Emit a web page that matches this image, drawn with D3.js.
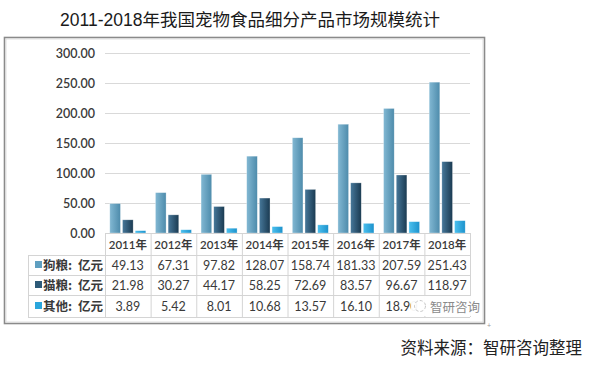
<!DOCTYPE html>
<html><head><meta charset="utf-8">
<script src="https://cdn.jsdelivr.net/npm/d3@7"></script>
<style>
html,body{margin:0;padding:0;background:#fff;}
svg{display:block;}
</style></head>
<body>
<svg id="c" width="593" height="366"></svg>
<script>
const years = ["2011年","2012年","2013年","2014年","2015年","2016年","2017年","2018年"];
const dogFood = [49.13,67.31,97.82,128.07,158.74,181.33,207.59,251.43];
const catFood = [21.98,30.27,44.17,58.25,72.69,83.57,96.67,118.97];
const otherFood = [3.89,5.42,8.01,10.68,13.57,16.10,18.90,20.60];
const seriesNames = ["狗粮","猫粮","其他"];
const unitLabel = "亿元";
const yTicks = [0,50,100,150,200,250,300];
const titleText = "2011-2018年我国宠物食品细分产品市场规模统计";
const sourceText = "资料来源：智研咨询整理";
const watermarkText = "智研咨询";

const seriesData = [dogFood, catFood, otherFood];
const colors = ["#5f9fc0","#2d5a78","#2aa6dc"];

const svg = d3.select("#c");
const defs = svg.append("defs");
const grads = [
  ["g0", "#82b8d3", "#4d8bab"],
  ["g1", "#47789a", "#1a3a51"],
  ["g2", "#4cc0ee", "#1c92cc"]
];
grads.forEach(([id,a,b]) => {
  const g = defs.append("linearGradient").attr("id", id).attr("x1","0").attr("x2","1").attr("y1","0").attr("y2","0");
  g.append("stop").attr("offset","0%").attr("stop-color", a);
  g.append("stop").attr("offset","100%").attr("stop-color", b);
});

const CJK = "'Noto Sans CJK SC', sans-serif";
const NUM = "Lato, 'Noto Sans CJK SC', sans-serif";

// title
svg.append("text").attr("x", 60).attr("y", 26)
  .attr("font-family", "'Liberation Sans', " + CJK)
  .attr("font-size", 17.5).attr("fill", "#1a1a1a").text(titleText);

// frame
svg.append("rect").attr("x", 4.5).attr("y", 37.5).attr("width", 480).attr("height", 286)
  .attr("fill", "#fff").attr("stroke", "#8a8a8a").attr("stroke-width", 1.6);
svg.append("rect").attr("x", 6).attr("y", 39).attr("width", 477).attr("height", 283)
  .attr("fill", "none").attr("stroke", "#d8d8d8").attr("stroke-width", 0.8);

const x0 = 105, x1 = 470, yBase = 233, yTop = 53;
const x = d3.scaleBand().domain(years).range([x0, x1]).padding(0);
const xs = d3.scaleBand().domain(seriesNames).range([0, x.bandwidth()]).paddingInner(0.16).paddingOuter(0.378);
const y = d3.scaleLinear().domain([0, 300]).range([yBase, yTop]);

// grid
const gAxis = svg.append("g").attr("transform", `translate(${x0},0)`)
  .call(d3.axisLeft(y).tickValues(yTicks).tickSize(-(x1 - x0)).tickFormat(d3.format(".2f")).tickPadding(10));
gAxis.select(".domain").remove();
gAxis.selectAll(".tick line").attr("stroke", "#d9d9d9").attr("stroke-width", 1);
gAxis.selectAll(".tick text").attr("font-family", NUM).attr("font-size", 12.5)
  .attr("fill", "#3a3a3a").attr("font-weight", 600);

// bars
seriesNames.forEach((s, si) => {
  svg.append("g").selectAll("rect").data(seriesData[si]).join("rect")
    .attr("x", (d, i) => x(years[i]) + xs(s))
    .attr("y", d => y(d))
    .attr("width", xs.bandwidth())
    .attr("height", d => y(0) - y(d))
    .attr("fill", `url(#g${si})`)
    .attr("stroke", "#ffffff").attr("stroke-opacity", 0.5).attr("stroke-width", 0.6);
});

// table
const tableLeft = 28;
const rowY = [255, 275, 295, 317];
const gridColor = "#d4d4d4";
const tbl = svg.append("g");
tbl.append("line").attr("x1", x0).attr("x2", x1).attr("y1", yBase + 0.5).attr("y2", yBase + 0.5).attr("stroke", gridColor);
rowY.forEach(ry => {
  tbl.append("line").attr("x1", tableLeft).attr("x2", x1).attr("y1", ry + 0.5).attr("y2", ry + 0.5).attr("stroke", gridColor);
});
tbl.append("line").attr("x1", tableLeft + 0.5).attr("x2", tableLeft + 0.5).attr("y1", rowY[0]).attr("y2", rowY[3]).attr("stroke", gridColor);
years.forEach((yr, i) => {
  const xx = x(yr) + 0.5;
  tbl.append("line").attr("x1", xx).attr("x2", xx).attr("y1", yBase).attr("y2", rowY[3]).attr("stroke", gridColor);
});
tbl.append("line").attr("x1", x1 + 0.5).attr("x2", x1 + 0.5).attr("y1", yBase).attr("y2", rowY[3]).attr("stroke", gridColor);

// header years
tbl.selectAll("text.yr").data(years).join("text").attr("class", "yr")
  .attr("x", d => x(d) + x.bandwidth() / 2).attr("y", 249)
  .attr("text-anchor", "middle").attr("font-family", NUM).attr("font-size", 11.5)
  .attr("font-weight", 600).attr("fill", "#3a3a3a").text(d => d);

// rows
seriesNames.forEach((s, si) => {
  const cy = (rowY[si] + rowY[si + 1]) / 2;
  tbl.append("rect").attr("x", 35).attr("y", cy - 4).attr("width", 7).attr("height", 7).attr("fill", colors[si]);
  tbl.append("text").attr("x", 43).attr("y", cy + 4.5)
    .attr("font-family", CJK).attr("font-size", 12.5).attr("font-weight", 600).attr("fill", "#3a3a3a")
    .text(s + ":");
  tbl.append("text").attr("x", 103).attr("y", cy + 4.5).attr("text-anchor", "end")
    .attr("font-family", CJK).attr("font-size", 12.5).attr("font-weight", 600).attr("fill", "#3a3a3a")
    .text(unitLabel);
  tbl.selectAll(null).data(seriesData[si].filter((d, i) => !(si === 2 && i === 7))).join("text")
    .attr("x", (d, i) => x(years[i]) + x.bandwidth() / 2).attr("y", cy + 4.5)
    .attr("text-anchor", "middle").attr("font-family", NUM).attr("font-size", 12.5)
    .attr("fill", "#3a3a3a").text(d => d.toFixed(2));
});

// watermark covering part of last row
const wm = svg.append("g");
wm.append("rect").attr("x", 411).attr("y", 296).attr("width", 68).attr("height", 20).attr("rx", 6).attr("fill", "#fff").attr("opacity", 0.95);
wm.append("circle").attr("cx", 420).attr("cy", 306).attr("r", 5.5).attr("fill", "none").attr("stroke", "#c8c8c8").attr("stroke-width", 1).attr("stroke-dasharray", "3,2");
wm.append("text").attr("x", 430).attr("y", 311.5).attr("font-family", CJK).attr("font-size", 12.5)
  .attr("fill", "#8a8a8a").text(watermarkText);
svg.append("text").attr("x", 487).attr("y", 328).attr("font-family", NUM).attr("font-size", 7).attr("fill", "#999").text("+");

// source
svg.append("text").attr("x", 582).attr("y", 354).attr("text-anchor", "end")
  .attr("font-family", CJK).attr("font-size", 16.5).attr("fill", "#222").text(sourceText);
</script>
</body></html>
